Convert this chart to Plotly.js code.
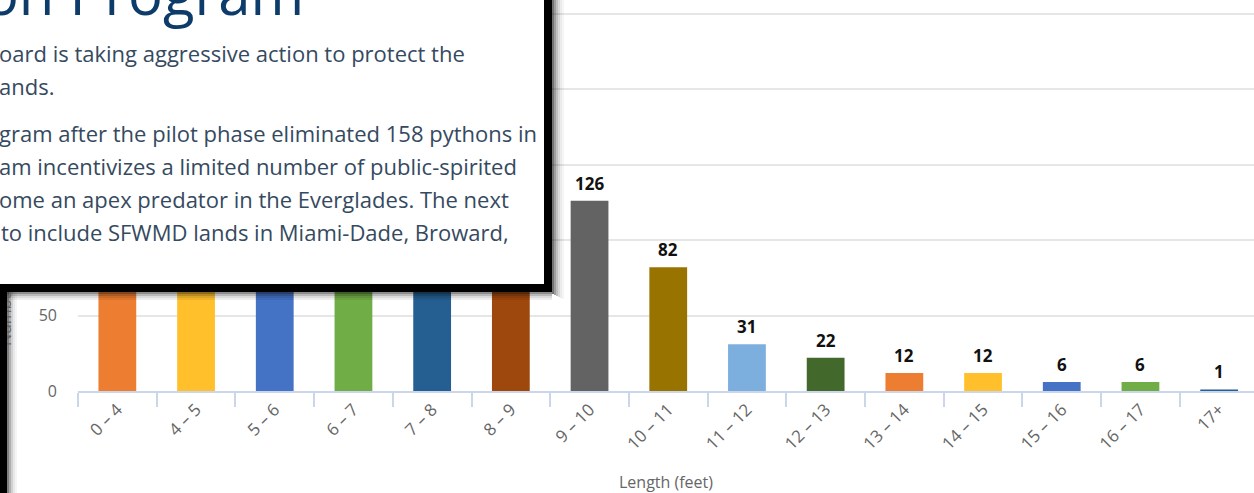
<!DOCTYPE html>
<html><head><meta charset="utf-8">
<script src="https://cdn.plot.ly/plotly-3.0.1.min.js"></script>
<style>html,body{margin:0;padding:0;background:#fff;overflow:hidden}#chart{width:1254px;height:493px}</style>
</head><body><div id="chart"></div>
<script>
// ---- data ----
const categories = ["0 – 4","4 – 5","5 – 6","6 – 7","7 – 8","8 – 9","9 – 10","10 – 11","11 – 12","12 – 13","13 – 14","14 – 15","15 – 16","16 – 17","17+"];
const pythonCounts = [97, 78, 118, 142, 157, 148, 126, 82, 31, 22, 12, 12, 6, 6, 1];
const barColors = ["#ED7D31","#FFC02C","#4472C4","#70AD47","#255E91","#9E480E","#636363","#997300","#7CAFDD","#43682B","#ED7D31","#FFC02C","#4472C4","#70AD47","#255E91"];
const yTickValues = [0, 50, 100, 150, 200, 250];
const yTickLabels = ["0", "50", "100", "150", "200", "250"];
const xAxisTitle = "Length (feet)";
const yAxisTitle = "Number of Pythons";
const overlayHeading = "Elimination Program";
const overlayLines = [
  "oard is taking aggressive action to protect the",
  "ands.",
  "gram after the pilot phase eliminated 158 pythons in",
  "am incentivizes a limited number of public-spirited",
  "ome an apex predator in the Everglades. The next",
  "to include SFWMD lands in Miami-Dade, Broward,"
];

// ---- geometry helpers (pixel -> paper) ----
const W = 1254, H = 493;
const ML = 78, MR = 0, MT = 10, MB = 102;
const PW = W - ML - MR, PH = H - MT - MB;
const px = x => (x - ML) / PW;
const py = y => (H - MB - y) / PH;
const FONT = "Open Sans, Noto Sans, sans-serif";
const TXT = 22;

const annotations = [];
// data labels (under the overlay box)
categories.forEach((c, i) => {
  annotations.push({
    x: c, y: pythonCounts[i], xref: "x", yref: "y",
    text: String(pythonCounts[i]), showarrow: false,
    xanchor: "center", yanchor: "bottom", yshift: 6,
    borderpad: 0, borderwidth: 0,
    font: {family: FONT, size: 17, color: "#111", weight: 700}
  });
});
// y axis title
annotations.push({
  xref: "paper", yref: "paper", x: px(5), y: py(346),
  xanchor: "center", yanchor: "bottom", textangle: -90,
  text: yAxisTitle, showarrow: false, borderpad: 0, borderwidth: 0,
  font: {family: FONT, size: 16, color: "#666"}
});
// x axis title
annotations.push({
  xref: "paper", yref: "paper", x: 0.5, y: py(482),
  xanchor: "center", yanchor: "middle",
  text: xAxisTitle, showarrow: false, borderpad: 0, borderwidth: 0,
  font: {family: FONT, size: 16, color: "#666"}
});
// left black frame strip
annotations.push({
  xref: "paper", yref: "paper", x: px(-10), y: py(284),
  xanchor: "left", yanchor: "top", width: 17, height: 220,
  text: " ", showarrow: false, bgcolor: "#000", borderpad: 0, borderwidth: 0
});
// overlay box (white, thick black border)
annotations.push({
  xref: "paper", yref: "paper", x: px(-30), y: py(-30),
  xanchor: "left", yanchor: "top", width: 566, height: 306,
  text: " ", showarrow: false, bgcolor: "#fff",
  bordercolor: "#000", borderwidth: 8, borderpad: 0
});
// heading
annotations.push({
  xref: "paper", yref: "paper", x: px(304), y: py(15 - 0.388 * 58),
  xanchor: "right", yanchor: "middle",
  text: overlayHeading, showarrow: false, borderpad: 0, borderwidth: 0,
  font: {family: FONT, size: 58, color: "#0d3c6b"}
});
// paragraph lines
const baselines = [62, 95, 142, 175, 208, 241];
const lineX = [-1, -1, -1, -1, -1, 1];
overlayLines.forEach((t, i) => {
  annotations.push({
    xref: "paper", yref: "paper", x: px(lineX[i]), y: py(baselines[i] - 0.388 * TXT),
    xanchor: "left", yanchor: "middle",
    text: t, showarrow: false, borderpad: 0, borderwidth: 0,
    font: {family: FONT, size: TXT, color: "#354a5f"}
  });
});

// soft shadows (shapes drawn above the plot, below annotations)
const shapes = [];
const rightSteps = [0.55, 0.38, 0.25, 0.15, 0.08, 0.04];
rightSteps.forEach((op, k) => {
  shapes.push({type: "rect", xref: "paper", yref: "paper", layer: "above",
    x0: px(552 + 2 * k), x1: px(554 + 2 * k), y0: py(-5), y1: py(294 + k),
    fillcolor: "rgba(0,0,0," + op + ")", line: {width: 0}});
});
const bottomSteps = [0.45, 0.28, 0.15, 0.07];
bottomSteps.forEach((op, k) => {
  shapes.push({type: "rect", xref: "paper", yref: "paper", layer: "above",
    x0: px(0), x1: px(552), y0: py(292 + 2 * k), y1: py(294 + 2 * k),
    fillcolor: "rgba(0,0,0," + op + ")", line: {width: 0}});
});
const leftSteps = [0.5, 0.32, 0.18, 0.09, 0.04];
leftSteps.forEach((op, k) => {
  shapes.push({type: "rect", xref: "paper", yref: "paper", layer: "above",
    x0: px(7 + 2 * k), x1: px(9 + 2 * k), y0: py(292), y1: py(500),
    fillcolor: "rgba(0,0,0," + op + ")", line: {width: 0}});
});

const trace = {
  type: "bar", x: categories, y: pythonCounts,
  marker: {color: barColors, line: {width: 0}},
  width: 0.48, hoverinfo: "skip", cliponaxis: false
};

const layout = {
  width: W, height: H,
  margin: {l: ML, r: MR, t: MT, b: MB, pad: 0},
  paper_bgcolor: "#fff", plot_bgcolor: "#fff",
  showlegend: false,
  font: {family: FONT, color: "#666"},
  xaxis: {
    type: "category", range: [-0.5, -0.5 + PW / 78.7],
    showline: true, linecolor: "#ccd6eb", linewidth: 2,
    ticks: "outside", tickson: "boundaries", ticklen: 14, tickwidth: 2, tickcolor: "#ccd6eb",
    tickangle: -45, tickfont: {family: FONT, size: 17, color: "#666"},
    showgrid: false, zeroline: false, fixedrange: true
  },
  yaxis: {
    range: [0, PH / 1.51], tickvals: yTickValues, ticktext: yTickLabels,
    showgrid: true, gridcolor: "#e6e6e6", gridwidth: 2,
    zeroline: false, showline: false, ticks: "",
    ticklabelstandoff: 20,
    tickfont: {family: FONT, size: 16, color: "#666"}, fixedrange: true
  },
  annotations: annotations,
  shapes: shapes
};

Plotly.newPlot("chart", [trace], layout, {displayModeBar: false, staticPlot: true});
</script>
</body></html>
